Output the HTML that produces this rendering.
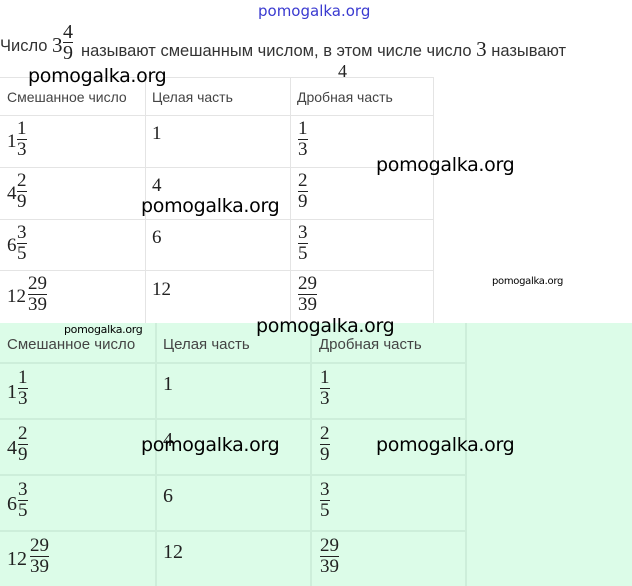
<!DOCTYPE html>
<html><head><meta charset="utf-8"><style>
body{margin:0;width:632px;height:586px;background:#fff;position:relative;overflow:hidden;font-family:"Liberation Sans",sans-serif;color:#333}
.a{position:absolute;white-space:nowrap}
.wm{position:absolute;font-family:"DejaVu Sans","Liberation Sans",sans-serif;color:#000;white-space:nowrap;letter-spacing:-0.3px}
.l{position:absolute;background:#e4e4e4}
.g{position:absolute;background:#cdeeda}
.s{font-family:"Liberation Serif",serif;color:#222}
.fr{position:absolute;font-family:"Liberation Serif",serif;color:#222;text-align:center;font-size:19px;line-height:20px}
.fr i{display:block;font-style:normal;border-bottom:1px solid #222}
.h{position:absolute;font-size:14px;color:#444}
</style></head><body>
<div class="a" style="left:258px;top:2px;font-size:15px;color:#3a3ad0;font-family:'DejaVu Sans',sans-serif">pomogalka.org</div>
<div class="a" style="left:0;top:37px;font-size:16.5px;color:#333">Число</div>
<div class="a s" style="left:52px;top:33px;font-size:21px">3</div>
<div class="fr" style="left:63px;top:22px;font-size:20px"><i>4</i>9</div>
<div class="a" style="left:81px;top:37px;font-size:16.5px">называют смешанным числом, в этом числе число <span class="s" style="font-size:21px">3</span> называют</div>
<div class="a s" style="left:338px;top:61px;font-size:18px">4</div>

<!-- top table -->
<div class="l" style="left:0;top:77px;width:434px;height:1px"></div>
<div class="l" style="left:0;top:115px;width:434px;height:1px"></div>
<div class="l" style="left:0;top:167px;width:434px;height:1px"></div>
<div class="l" style="left:0;top:219px;width:434px;height:1px"></div>
<div class="l" style="left:0;top:270px;width:434px;height:1px"></div>
<div class="l" style="left:145px;top:77px;width:1px;height:246px"></div>
<div class="l" style="left:290px;top:77px;width:1px;height:246px"></div>
<div class="l" style="left:433px;top:77px;width:1px;height:246px"></div>
<div class="h" style="left:7px;top:89px">Смешанное число</div>
<div class="h" style="left:152px;top:89px">Целая часть</div>
<div class="h" style="left:297px;top:89px">Дробная часть</div>

<div class="a s" style="left:7px;top:131px;font-size:19px">1</div><div class="fr" style="left:17px;top:119px"><i>1</i>3</div>
<div class="a s" style="left:152px;top:123px;font-size:19px">1</div><div class="fr" style="left:298px;top:119px"><i>1</i>3</div>
<div class="a s" style="left:7px;top:183px;font-size:19px">4</div><div class="fr" style="left:17px;top:171px"><i>2</i>9</div>
<div class="a s" style="left:152px;top:175px;font-size:19px">4</div><div class="fr" style="left:298px;top:171px"><i>2</i>9</div>
<div class="a s" style="left:7px;top:235px;font-size:19px">6</div><div class="fr" style="left:17px;top:223px"><i>3</i>5</div>
<div class="a s" style="left:152px;top:227px;font-size:19px">6</div><div class="fr" style="left:298px;top:223px"><i>3</i>5</div>
<div class="a s" style="left:7px;top:286px;font-size:19px">12</div><div class="fr" style="left:28px;top:274px"><i>29</i>39</div>
<div class="a s" style="left:152px;top:279px;font-size:19px">12</div><div class="fr" style="left:298px;top:274px"><i>29</i>39</div>

<!-- green table -->
<div style="position:absolute;left:0;top:323px;width:632px;height:263px;background:#dcfce8"></div>
<div class="g" style="left:0;top:362px;width:466px;height:2px"></div>
<div class="g" style="left:0;top:418px;width:466px;height:2px"></div>
<div class="g" style="left:0;top:474px;width:466px;height:2px"></div>
<div class="g" style="left:0;top:530px;width:466px;height:2px"></div>
<div class="g" style="left:155px;top:323px;width:2px;height:263px"></div>
<div class="g" style="left:310px;top:323px;width:2px;height:263px"></div>
<div class="g" style="left:465px;top:323px;width:2px;height:263px"></div>
<div class="h" style="left:7px;top:336px;font-size:15px">Смешанное число</div>
<div class="h" style="left:163px;top:336px;font-size:15px">Целая часть</div>
<div class="h" style="left:319px;top:336px;font-size:15px">Дробная часть</div>

<div class="a s" style="left:7px;top:381px;font-size:20px">1</div><div class="fr" style="left:18px;top:368px"><i>1</i>3</div>
<div class="a s" style="left:163px;top:373px;font-size:20px">1</div><div class="fr" style="left:320px;top:368px"><i>1</i>3</div>
<div class="a s" style="left:7px;top:437px;font-size:20px">4</div><div class="fr" style="left:18px;top:424px"><i>2</i>9</div>
<div class="a s" style="left:163px;top:429px;font-size:20px">4</div><div class="fr" style="left:320px;top:424px"><i>2</i>9</div>
<div class="a s" style="left:7px;top:493px;font-size:20px">6</div><div class="fr" style="left:18px;top:480px"><i>3</i>5</div>
<div class="a s" style="left:163px;top:485px;font-size:20px">6</div><div class="fr" style="left:320px;top:480px"><i>3</i>5</div>
<div class="a s" style="left:7px;top:548px;font-size:20px">12</div><div class="fr" style="left:30px;top:536px"><i>29</i>39</div>
<div class="a s" style="left:163px;top:541px;font-size:20px">12</div><div class="fr" style="left:320px;top:536px"><i>29</i>39</div>

<!-- watermarks -->
<div class="wm" style="left:28px;top:65px;font-size:19px">pomogalka.org</div>
<div class="wm" style="left:376px;top:154px;font-size:19px">pomogalka.org</div>
<div class="wm" style="left:141px;top:195px;font-size:19px">pomogalka.org</div>
<div class="wm" style="left:492px;top:276px;font-size:10px">pomogalka.org</div>
<div class="wm" style="left:64px;top:323px;font-size:11px">pomogalka.org</div>
<div class="wm" style="left:256px;top:315px;font-size:19px">pomogalka.org</div>
<div class="wm" style="left:141px;top:434px;font-size:19px">pomogalka.org</div>
<div class="wm" style="left:376px;top:434px;font-size:19px">pomogalka.org</div>
</body></html>
